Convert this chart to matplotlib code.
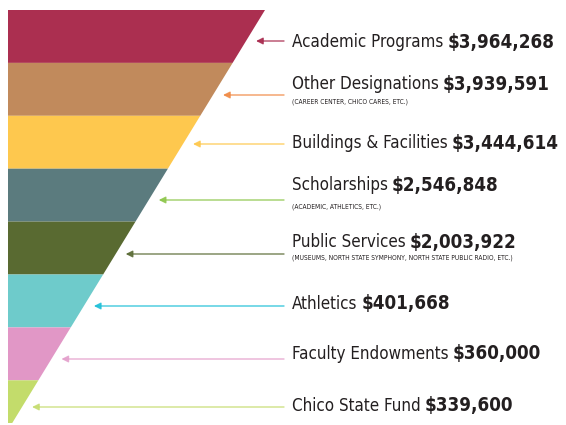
import matplotlib
matplotlib.use("Agg")
import matplotlib.pyplot as plt
from matplotlib import font_manager as fm
from matplotlib.patches import Polygon

categories = ["Academic Programs", "Other Designations", "Buildings & Facilities",
              "Scholarships", "Public Services", "Athletics",
              "Faculty Endowments", "Chico State Fund"]
values = [3964268, 3939591, 3444614, 2546848, 2003922, 401668, 360000, 339600]
notes = ["", "(CAREER CENTER, CHICO CARES, ETC.)", "", "(ACADEMIC, ATHLETICS, ETC.)",
         "(MUSEUMS, NORTH STATE SYMPHONY, NORTH STATE PUBLIC RADIO, ETC.)", "", "", ""]
band_colors = ["#ab2f50", "#c18a5c", "#fec84e", "#5b7b7e", "#596a31", "#6ecbcb", "#e197c6", "#c3dc6b"]
arrow_colors = ["#a8294d", "#f08a45", "#fec84d", "#8dc64a", "#5a6b35", "#1fc0d8", "#e4a0cc", "#c6dd70"]

names = {f.name for f in fm.fontManager.ttflist}
fam = "Liberation Sans Narrow" if "Liberation Sans Narrow" in names else "DejaVu Sans"

fig = plt.figure(figsize=(5.66, 4.25), dpi=100)
ax = fig.add_axes([0, 0, 1, 1])
ax.set_xlim(0, 566)
ax.set_ylim(425, 0)
ax.axis("off")

top, h, left, right_top, slope = 10, 52.9, 8, 265, 0.612
def xr(y):
    return right_top - slope * (y - top)

text_y = [42, 84, 143, 185, 242, 304, 354, 406]
arrow_y = [41, 95, 144, 200, 254, 306, 359, 407]
note_y = [None, 102, None, 207, 258, None, None, None]

for i, (cat, val, note) in enumerate(zip(categories, values, notes)):
    y0 = top + i * h
    y1 = min(y0 + h, 423)
    poly = Polygon([(left, y0), (xr(y0), y0), (xr(y1), y1), (left, y1)],
                   closed=True, facecolor=band_colors[i], edgecolor="none")
    ax.add_patch(poly)
    ay = arrow_y[i]
    ax.annotate("", xy=(xr(ay) + 10, ay), xytext=(284, ay),
                arrowprops=dict(arrowstyle="-|>", color=arrow_colors[i], lw=1.0,
                                mutation_scale=10, shrinkA=0, shrinkB=0, alpha=0.85))
    t = ax.text(292, text_y[i], cat, fontsize=12.2, family=fam, color="#231f20",
                va="center", ha="left", fontstretch="condensed")
    fig.canvas.draw()
    bb = t.get_window_extent()
    x_end = ax.transData.inverted().transform((bb.x1, bb.y0))[0] + 4
    ax.text(x_end, text_y[i], f"${val:,}", fontsize=13.5, family=fam, weight="bold",
            color="#231f20", va="center", ha="left", fontstretch="condensed")
    if note:
        ax.text(292, note_y[i], note, fontsize=4.8, family=fam, color="#231f20",
                va="center", ha="left", fontstretch="condensed")

fig.savefig("out.png", dpi=100)
